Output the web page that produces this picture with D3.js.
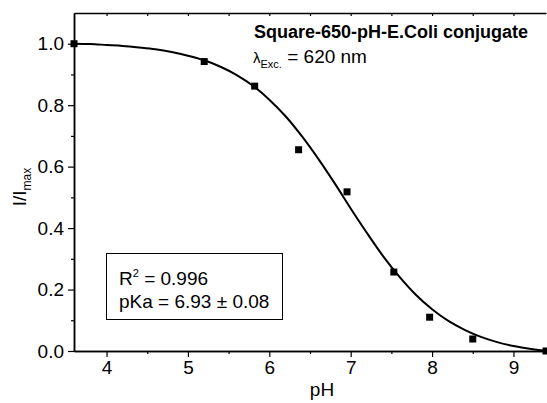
<!DOCTYPE html>
<html>
<head>
<meta charset="utf-8">
<script src="https://cdn.jsdelivr.net/npm/d3@7"></script>
<style>
  html, body { margin: 0; padding: 0; background: #fff; }
  svg { display: block; font-family: "Liberation Sans", Arial, sans-serif; }
</style>
</head>
<body>
<svg id="chart" width="547" height="403"></svg>
<script>
// Measured points
const phData = [3.6, 5.2, 5.82, 6.36, 6.955, 7.53, 7.97, 8.5, 9.4];
const intensity = [1.0, 0.942, 0.862, 0.655, 0.518, 0.257, 0.11, 0.039, 0.0];

// Fit curve
const fitPH = [3.6, 3.8, 4.0, 4.2, 4.4, 4.6, 4.8, 5.0, 5.2, 5.4, 5.6, 5.8, 6.0, 6.2, 6.4, 6.6, 6.8, 7.0, 7.2, 7.4, 7.6, 7.8, 8.0, 8.2, 8.4, 8.6, 8.8, 9.0, 9.2, 9.4];
const fitI = [1.000, 0.999, 0.996, 0.993, 0.988, 0.982, 0.973, 0.961, 0.946, 0.925, 0.898, 0.863, 0.818, 0.764, 0.699, 0.626, 0.547, 0.464, 0.384, 0.308, 0.241, 0.183, 0.136, 0.098, 0.069, 0.046, 0.029, 0.016, 0.007, 0.000];

const xMajor = [4, 5, 6, 7, 8, 9];
const xMinor = [4.5, 5.5, 6.5, 7.5, 8.5];
const yMajor = [0.0, 0.2, 0.4, 0.6, 0.8, 1.0];
const yMinor = [0.1, 0.3, 0.5, 0.7, 0.9];

const titleText = "Square-650-pH-E.Coli conjugate";
const r2Text = "0.996";
const pKaText = "6.93 ± 0.08";

const L = 74, R = 546, T = 13, B = 351;
const svg = d3.select("#chart");
const x = d3.scaleLinear().domain([3.6, 9.4]).range([L, R]);
const y = d3.scaleLinear().domain([0, 1.1]).range([B, T]);

const FONT = 19;

// Bottom axis
const gx = svg.append("g").attr("transform", `translate(0,${B})`);
gx.call(d3.axisBottom(x).tickValues(xMajor).tickFormat(d3.format("d")).tickSize(6).tickSizeOuter(0).tickPadding(4));
gx.append("g").call(d3.axisBottom(x).tickValues(xMinor).tickFormat("").tickSize(3).tickSizeOuter(0));
// Left axis
const gy = svg.append("g").attr("transform", `translate(${L},0)`);
gy.call(d3.axisLeft(y).tickValues(yMajor).tickFormat(d3.format(".1f")).tickSize(6).tickSizeOuter(0).tickPadding(4));
gy.append("g").call(d3.axisLeft(y).tickValues(yMinor).tickFormat("").tickSize(3).tickSizeOuter(0));
// Top axis (ticks inward)
const gt = svg.append("g").attr("transform", `translate(0,${T})`);
gt.call(d3.axisBottom(x).tickValues(xMajor.concat(xMinor)).tickFormat("").tickSize(3).tickSizeOuter(0));

svg.selectAll(".domain").attr("stroke", "#000").attr("stroke-width", 1.5);
svg.selectAll(".tick line").attr("stroke", "#000").attr("stroke-width", 1.2);
svg.selectAll(".tick text").attr("font-size", FONT).attr("fill", "#000")
   .attr("font-family", "'Liberation Sans', Arial, sans-serif");

// Fit curve
const line = d3.line().x(d => x(d[0])).y(d => y(d[1])).curve(d3.curveMonotoneX);
svg.append("path")
  .datum(fitPH.map((p, i) => [p, fitI[i]]))
  .attr("d", line)
  .attr("fill", "none").attr("stroke", "#000").attr("stroke-width", 2);

// Points
const S = 7;
svg.append("g").selectAll("rect").data(phData.map((p, i) => [p, intensity[i]])).join("rect")
  .attr("x", d => x(d[0]) - S / 2).attr("y", d => y(d[1]) - S / 2)
  .attr("width", S).attr("height", S).attr("fill", "#000");

// Title
svg.append("text").attr("x", 254).attr("y", 38).attr("font-size", 18).attr("font-weight", "bold")
  .text(titleText);
const lam = svg.append("text").attr("x", 253).attr("y", 63).attr("font-size", FONT);
lam.append("tspan").attr("font-size", 15).text("λ");
lam.append("tspan").attr("font-size", 11).attr("dy", 5).text("Exc.");
lam.append("tspan").attr("dy", -5).text(" = 620 nm");

// Stats box
svg.append("rect").attr("x", 106.5).attr("y", 253.5).attr("width", 176).attr("height", 66)
  .attr("fill", "#fff").attr("stroke", "#000").attr("stroke-width", 1);
const r2 = svg.append("text").attr("x", 119).attr("y", 285).attr("font-size", FONT);
r2.append("tspan").text("R");
r2.append("tspan").attr("font-size", 11).attr("dy", -8).text("2");
r2.append("tspan").attr("dy", 8).text(" = " + r2Text);
svg.append("text").attr("x", 119).attr("y", 308).attr("font-size", FONT).text("pKa = " + pKaText);

// Axis labels
svg.append("text").attr("x", (L + R) / 2 + 12).attr("y", 396).attr("text-anchor", "middle")
  .attr("font-size", FONT).text("pH");
const yl = svg.append("text").attr("transform", `translate(26,${(T + B) / 2 + 5}) rotate(-90)`)
  .attr("text-anchor", "middle").attr("font-size", FONT);
yl.append("tspan").text("I/I");
yl.append("tspan").attr("font-size", 12).attr("dy", 5).text("max");
</script>
</body>
</html>
